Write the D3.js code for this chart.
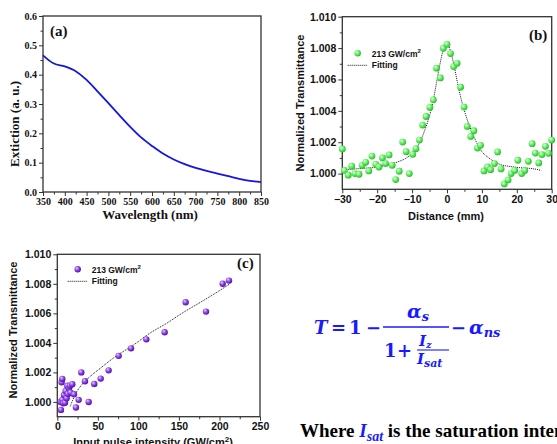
<!DOCTYPE html>
<html>
<head>
<meta charset="utf-8">
<script src="https://cdn.jsdelivr.net/npm/d3@7"></script>
<style>
  body { margin: 0; background: #fff; }
  svg { display: block; }
</style>
</head>
<body>
<svg width="557" height="444"></svg>
<script>
// (a) extinction spectrum
const wavelength = [350, 375, 400, 425, 450, 475, 500, 525, 550, 575, 600, 625, 650, 675, 700, 725, 750, 775, 800, 825, 850]
const extinction = [0.466, 0.438, 0.428, 0.412, 0.382, 0.343, 0.303, 0.262, 0.222, 0.186, 0.157, 0.131, 0.111, 0.095, 0.082, 0.072, 0.063, 0.054, 0.045, 0.038, 0.034]

// (b) open aperture z-scan
const distance = [-30, -29.4, -28.3, -27.3, -26.4, -25.2, -24.3, -23.3, -22.4, -21.5, -20.4, -19.5, -18.5, -17.6, -16.6, -15.7, -14.7, -13.7, -12.7, -11.7, -10.8, -9.8, -8.9, -7.9, -7.0, -6.0, -4.9, -3.9, -3.0, -1.9, -1.05, 0, 1.0, 1.9, 2.9, 3.9, 4.9, 5.8, 6.8, 7.7, 8.7, 9.6, 10.6, 11.6, 12.5, 13.6, 14.5, 15.5, 16.4, 17.5, 18.4, 19.4, 20.3, 21.4, 22.3, 23.3, 24.4, 25.3, 26.3, 27.2, 28.2, 29.1, 30]
const transB = [1.00157, 1.0002, 0.9999, 1.00047, 1.0000, 0.99996, 1.00053, 1.00072, 1.00017, 1.00112, 1.00059, 1.00042, 1.0010, 1.00064, 1.00119, 1.00053, 0.99962, 1.00015, 1.00201, 1.0014, 1.0000, 1.00123, 1.00159, 1.00214, 1.00309, 1.00364, 1.00422, 1.0047, 1.00672, 1.0061, 1.00799, 1.00824, 1.00765, 1.00682, 1.00703, 1.00551, 1.00424, 1.00301, 1.00237, 1.00273, 1.00163, 1.0018, 1.00017, 1.00042, 1.00025, 1.00064, 1.00138, 1.0003, 0.99934, 0.9996, 1.0000, 1.0002, 1.00085, 1.0000, 1.0002, 1.00078, 1.00191, 1.00131, 1.00068, 1.00121, 1.00174, 1.00129, 1.00214]
const fitBX = [-30, -25, -20, -15, -12, -10, -8, -6, -5, -4, -3, -2, -1, 0, 1, 2, 3, 4, 5, 6, 8, 10, 12, 15, 20, 25, 27]
const fitBY = [1.00025, 1.00032, 1.00042, 1.00068, 1.00095, 1.0013, 1.0019, 1.0030, 1.0037, 1.0046, 1.0058, 1.0070, 1.0079, 1.0083, 1.0078, 1.0069, 1.0058, 1.0048, 1.0040, 1.0033, 1.0022, 1.0014, 1.0010, 1.0006, 1.0004, 1.0003, 1.0002]

// (c) transmittance vs intensity
const intensity = [4.5, 5.3, 6.2, 4.1, 6.2, 7.4, 8.2, 9.5, 10.3, 11.5, 12.3, 13.2, 14.4, 15.6, 16.4, 18.5, 20.6, 23, 26.3, 29.6, 34.1, 38.7, 45.6, 53.5, 63.3, 75.7, 90.9, 109.8, 132.4, 158.3, 183.4, 204, 211.8]
const transC = [0.99946, 1.00133, 1.00156, 1.0000, 1.00014, 0.99991, 1.00047, 0.99995, 1.00074, 1.00025, 1.0011, 1.00054, 1.00093, 1.0011, 1.00063, 1.0012, 1.00052, 0.99962, 1.00014, 1.002, 1.0014, 1.0000, 1.00122, 1.00158, 1.00214, 1.00312, 1.00363, 1.00424, 1.00472, 1.00675, 1.00612, 1.00801, 1.00822]
const fitCX = [16, 24, 36, 53, 73, 94, 114, 135, 155, 176, 196, 213]
const fitCY = [0.9997, 1.0007, 1.0015, 1.00228, 1.00312, 1.00386, 1.00465, 1.00533, 1.00605, 1.00673, 1.0074, 1.0080]

const serif = 'Liberation Serif, Times New Roman, serif'
const sans = 'Liberation Sans, Arial, sans-serif'
const mathFont = 'DejaVu Serif, serif'
const frameColor = '#333'

const svg = d3.select('svg')
const defs = svg.append('defs')

function ball (id, c0, c1, c2) {
  const grad = defs.append('radialGradient').attr('id', id)
    .attr('cx', '40%').attr('cy', '40%').attr('r', '60%').attr('fx', '35%').attr('fy', '30%')
  grad.append('stop').attr('offset', '0%').attr('stop-color', c0)
  grad.append('stop').attr('offset', '55%').attr('stop-color', c1)
  grad.append('stop').attr('offset', '100%').attr('stop-color', c2)
}
ball('green', '#e4ffe4', '#5ff05f', '#2fb82f')
ball('purple', '#e6d2ff', '#8e42e6', '#5312a8')

function panel (o) {
  const x = d3.scaleLinear().domain(o.xd).range(o.xr)
  const y = d3.scaleLinear().domain(o.yd).range(o.yr)
  const g = svg.append('g')

  // minor ticks
  g.append('g').attr('transform', `translate(0,${o.yr[0]})`)
    .call(d3.axisBottom(x).tickValues(o.xMinor).tickSize(2.5).tickFormat(''))
  g.append('g').attr('transform', `translate(${o.xr[0]},0)`)
    .call(d3.axisLeft(y).tickValues(o.yMinor).tickSize(2.5).tickFormat(''))

  g.append('g').attr('transform', `translate(0,${o.yr[0]})`)
    .call(d3.axisBottom(x).tickValues(o.xTicks).tickSize(4).tickPadding(2).tickFormat(o.xFmt))
  g.append('g').attr('transform', `translate(${o.xr[0]},0)`)
    .call(d3.axisLeft(y).tickValues(o.yTicks).tickSize(4).tickPadding(2).tickFormat(o.yFmt))

  g.selectAll('.domain').remove()
  g.selectAll('.tick line').attr('stroke', frameColor).attr('stroke-width', 1)
  g.selectAll('.tick text').attr('fill', '#111').style('font-family', o.font)
    .style('font-weight', 'bold').style('font-size', o.tickSize + 'px')

  g.append('rect')
    .attr('x', o.xr[0]).attr('y', o.yr[1])
    .attr('width', o.xr[1] - o.xr[0]).attr('height', o.yr[0] - o.yr[1])
    .attr('fill', 'none').attr('stroke', frameColor).attr('stroke-width', 1.3)

  g.append('text').attr('x', o.xTitle[0]).attr('y', o.xTitle[1])
    .attr('text-anchor', 'middle').style('font-family', o.font).style('font-weight', 'bold')
    .style('font-size', o.titleSize + 'px').attr('fill', '#111').html(o.xLabel)
  g.append('text')
    .attr('transform', `translate(${o.yTitle[0]},${o.yTitle[1]}) rotate(-90)`)
    .attr('text-anchor', 'middle').style('font-family', o.font).style('font-weight', 'bold')
    .style('font-size', o.titleSize + 'px').attr('fill', '#111').text(o.yLabel)

  g.append('text').attr('x', o.tag[0]).attr('y', o.tag[1])
    .style('font-family', serif).style('font-weight', 'bold').style('font-size', '15px')
    .attr('fill', '#111').text(o.tagText)

  return { g, x, y }
}

// ---- (a)
const A = panel({
  xd: [350, 850], xr: [43, 261], yd: [0, 0.6], yr: [192, 16],
  xTicks: d3.range(350, 851, 50), xMinor: d3.range(375, 850, 50),
  yTicks: d3.range(0, 0.61, 0.1), yMinor: d3.range(0.05, 0.6, 0.1),
  xFmt: d3.format('d'), yFmt: d3.format('.1f'),
  font: serif, tickSize: 10, titleSize: 13,
  xLabel: 'Wavelength (nm)', xTitle: [150, 219],
  yLabel: 'Extiction (a. u.)', yTitle: [19, 124],
  tag: [50, 36], tagText: '(a)'
})
A.g.append('path')
  .datum(wavelength.map((w, i) => [w, extinction[i]]))
  .attr('fill', 'none').attr('stroke', '#1515e0').attr('stroke-width', 1.8)
  .attr('d', d3.line().x(d => A.x(d[0])).y(d => A.y(d[1])).curve(d3.curveCatmullRom))

// ---- (b)
const B = panel({
  xd: [-30, 30], xr: [342.3, 551.7], yd: [0.999, 1.010], yr: [189.3, 16.7],
  xTicks: d3.range(-30, 31, 10), xMinor: d3.range(-25, 30, 10),
  yTicks: d3.range(1.000, 1.0101, 0.002), yMinor: d3.range(1.001, 1.010, 0.002),
  xFmt: d3.format('d'), yFmt: d3.format('.3f'),
  font: sans, tickSize: 10.5, titleSize: 11,
  xLabel: 'Distance (mm)', xTitle: [446, 220],
  yLabel: 'Normalized Transmittance', yTitle: [304, 103],
  tag: [529, 40], tagText: '(b)'
})
B.g.append('path')
  .datum(fitBX.map((v, i) => [v, fitBY[i]]))
  .attr('fill', 'none').attr('stroke', '#111').attr('stroke-width', 1).attr('stroke-dasharray', '1,1')
  .attr('d', d3.line().x(d => B.x(d[0])).y(d => B.y(d[1])).curve(d3.curveCatmullRom))
B.g.append('g').selectAll('circle')
  .data(distance.map((v, i) => [v, transB[i]]))
  .join('circle')
  .attr('cx', d => B.x(d[0])).attr('cy', d => B.y(d[1])).attr('r', 3.4)
  .attr('fill', 'url(#green)')

// ---- (c)
const C = panel({
  xd: [0, 250], xr: [57.3, 260], yd: [0.999, 1.010], yr: [416.7, 254.3],
  xTicks: d3.range(0, 251, 50), xMinor: d3.range(25, 250, 50),
  yTicks: d3.range(1.000, 1.0101, 0.002), yMinor: d3.range(1.001, 1.010, 0.002),
  xFmt: d3.format('d'), yFmt: d3.format('.3f'),
  font: sans, tickSize: 10.5, titleSize: 11,
  xLabel: 'Input pulse intensity (GW/cm<tspan dy="-4" font-size="8">2</tspan><tspan dy="4">)</tspan>', xTitle: [153, 446],
  yLabel: 'Normalized Transmittance', yTitle: [17, 330],
  tag: [237, 268], tagText: '(c)'
})
C.g.append('path')
  .datum(fitCX.map((v, i) => [v, fitCY[i]]))
  .attr('fill', 'none').attr('stroke', '#111').attr('stroke-width', 1).attr('stroke-dasharray', '1,1')
  .attr('d', d3.line().x(d => C.x(d[0])).y(d => C.y(d[1])).curve(d3.curveCatmullRom))
C.g.append('g').selectAll('circle')
  .data(intensity.map((v, i) => [v, transC[i]]))
  .join('circle')
  .attr('cx', d => C.x(d[0])).attr('cy', d => C.y(d[1])).attr('r', 3.2)
  .attr('fill', 'url(#purple)')

// legends
function legend (g, cx, cy, fill) {
  g.append('circle').attr('cx', cx).attr('cy', cy).attr('r', 3.2).attr('fill', fill)
  g.append('text').attr('x', cx + 14).attr('y', cy + 3.5)
    .style('font-family', sans).style('font-weight', 'bold').style('font-size', '8.5px').attr('fill', '#111')
    .html('213 GW/cm<tspan dy="-3.5" font-size="6">2</tspan>')
  g.append('line').attr('x1', cx - 10).attr('x2', cx + 10).attr('y1', cy + 12).attr('y2', cy + 12)
    .attr('stroke', '#111').attr('stroke-width', 1).attr('stroke-dasharray', '1,1')
  g.append('text').attr('x', cx + 14).attr('y', cy + 15)
    .style('font-family', sans).style('font-weight', 'bold').style('font-size', '8.5px').attr('fill', '#111')
    .text('Fitting')
}
legend(B.g, 357.7, 53.3, 'url(#green)')
legend(C.g, 77.7, 269.3, 'url(#purple)')

// formula  T = 1 - a_s / (1 + I_z / I_sat) - a_ns
const blue = '#1a1aff'
const f = svg.append('g').attr('fill', blue).style('font-family', mathFont).style('font-weight', 'bold')
function t (x, y, parts) {
  const el = f.append('text').attr('x', x).attr('y', y)
  parts.forEach(p => {
    el.append('tspan').style('font-size', p[1] + 'px')
      .style('font-style', p[2] ? 'italic' : 'normal')
      .attr('dy', p[3] || 0).text(p[0])
  })
}
t(314, 334, [['T', 18, true]])
t(331, 334, [['=', 18]])
t(349, 334, [['1', 18]])
t(366, 334, [['−', 18]])
f.append('line').attr('x1', 383).attr('x2', 449).attr('y1', 327).attr('y2', 327).attr('stroke', blue).attr('stroke-width', 1.4)
t(407, 318, [['α', 19, true], ['s', 13, true, 3]])
t(384, 357, [['1', 18]])
t(397, 357, [['+', 18]])
t(419, 346, [['I', 15, true], ['z', 10, true, 2]])
f.append('line').attr('x1', 417).attr('x2', 449).attr('y1', 350).attr('y2', 350).attr('stroke', blue).attr('stroke-width', 1.1)
t(417, 364, [['I', 15, true], ['sat', 11, true, 3]])
t(451, 334, [['−', 18]])
t(469, 334, [['α', 19, true], ['ns', 13, true, 3]])

// caption line
const cap = svg.append('text').attr('x', 300).attr('y', 437)
  .style('font-family', serif).style('font-weight', 'bold').style('font-size', '19px').attr('fill', '#000')
cap.append('tspan').text('Where ')
cap.append('tspan').attr('fill', blue).style('font-style', 'italic').text('I')
cap.append('tspan').attr('fill', blue).style('font-style', 'italic').attr('font-size', '14px').attr('dy', 4).text('sat')
cap.append('tspan').attr('dy', -4).text(' is the saturation intensity')
</script>
</body>
</html>
